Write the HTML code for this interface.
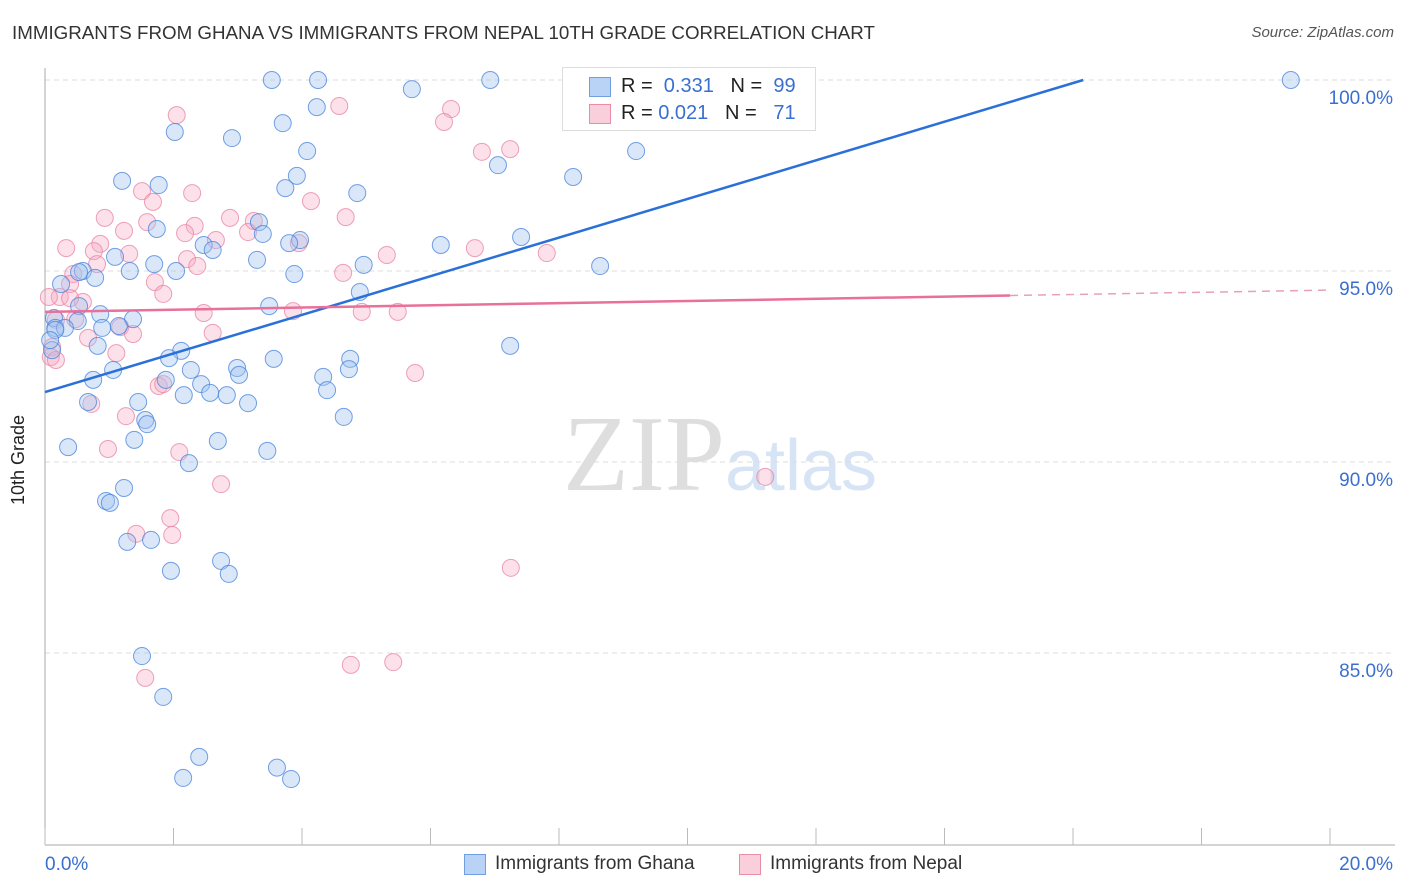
<!DOCTYPE html>
<html><head><meta charset="utf-8"><style>
body{margin:0;background:#fff;font-family:"Liberation Sans",sans-serif}
#wrap{position:relative;width:1406px;height:892px;overflow:hidden}
.t{position:absolute;white-space:nowrap}
</style></head><body>
<div id="wrap">
<div class="t" style="left:12px;top:22px;font-size:18.75px;color:#333">IMMIGRANTS FROM GHANA VS IMMIGRANTS FROM NEPAL 10TH GRADE CORRELATION CHART</div>
<div class="t" style="right:12px;top:24px;font-size:15px;color:#555;font-style:italic">Source: ZipAtlas.com</div>
<div class="t" style="left:8px;font-size:18px;color:#222;transform:rotate(-90deg);transform-origin:left top;top:505px">10th Grade</div>
<svg id="svg" width="1406" height="892" style="position:absolute;left:0;top:0">
<text x="720" y="490" text-anchor="middle" font-family="Liberation Serif,serif" font-size="108" fill="#e4e4e4"><tspan fill="#dedede">ZIP</tspan><tspan font-family="Liberation Sans,sans-serif" font-size="72" fill="#d6e4f5">atlas</tspan></text>
<g id="g"></g>
</svg>
<div class="t" style="left:562px;top:67px;width:252px;height:62px;border:1px solid #ddd;background:#fff">
 <div style="position:absolute;left:26px;top:9px;width:20px;height:18px;background:#b8d3f5;border:1px solid #6f9fe0"></div>
 <div class="t" style="left:58px;top:7px;font-size:20px;color:#222">R = <span style="color:#3a6fd0">&nbsp;0.331</span>&nbsp;&nbsp;&nbsp;N = <span style="color:#3a6fd0">&nbsp;99</span></div>
 <div style="position:absolute;left:26px;top:36px;width:20px;height:18px;background:#f9cfdc;border:1px solid #e88ca8"></div>
 <div class="t" style="left:58px;top:34px;font-size:20px;color:#222">R = <span style="color:#3a6fd0">0.021</span>&nbsp;&nbsp;&nbsp;N = <span style="color:#3a6fd0">&nbsp;&nbsp;71</span></div>
</div>
<div style="position:absolute;left:464px;top:854px;width:20px;height:19px;background:#b8d3f5;border:1px solid #6f9fe0"></div>
<div class="t" style="left:495px;top:853px;font-size:19px;color:#333">Immigrants from Ghana</div>
<div style="position:absolute;left:739px;top:854px;width:20px;height:19px;background:#f9cfdc;border:1px solid #e88ca8"></div>
<div class="t" style="left:770px;top:853px;font-size:19px;color:#333">Immigrants from Nepal</div>
</div>
<script>
const xTicks=[0,2,4,6,8,10,12,14,16,18,20];
const yTicks=[100,95,90,85];
const yTickLabels=["100.0%","95.0%","90.0%","85.0%"];
const xEndLabels=["0.0%","20.0%"];
const ghanaX=[3.53,4.25,6.93,19.39,5.71,4.23,3.70,2.02,2.91,4.08,9.20,7.05,1.20,1.77,8.22,3.92,3.74,4.86,1.74,3.33,3.39,7.41,6.16,3.97,2.47,2.61,3.80,3.30,1.09,1.70,2.04,1.32,4.96,8.64,0.59,0.53,0.78,3.88,0.25,4.90,3.49,0.53,0.86,0.14,0.51,1.37,0.16,0.31,0.89,1.15,7.24,0.82,2.12,4.75,3.56,1.93,1.06,2.27,2.99,4.73,0.75,1.88,4.33,3.02,2.43,2.16,2.57,2.83,4.39,3.16,1.45,0.67,4.65,1.56,1.59,0.36,1.39,2.69,3.46,2.24,1.23,0.95,1.01,1.28,1.65,2.74,1.96,2.86,1.51,1.84,2.40,2.15,3.61,3.83,0.11,0.16,0.08];
const ghanaY=[100,100,100,100,99.76,99.29,98.87,98.64,98.48,98.14,98.14,97.77,97.36,97.25,97.46,97.49,97.17,97.04,96.10,96.28,95.97,95.89,95.68,95.81,95.68,95.55,95.73,95.29,95.37,95.18,95.00,95.00,95.16,95.13,95.00,94.97,94.82,94.92,94.66,94.45,94.08,94.08,93.87,93.77,93.69,93.74,93.51,93.51,93.51,93.56,93.04,93.04,92.91,92.70,92.70,92.72,92.41,92.41,92.46,92.43,92.15,92.15,92.23,92.28,92.04,91.75,91.81,91.75,91.88,91.54,91.57,91.57,91.18,91.10,90.99,90.39,90.58,90.55,90.29,89.97,89.32,88.98,88.93,87.91,87.96,87.41,87.15,87.07,84.92,83.85,82.28,81.73,82.00,81.70,92.93,93.46,93.19];
const nepalX=[2.05,4.58,6.32,6.21,6.80,7.24,1.51,2.29,1.68,4.14,4.68,0.93,2.88,3.25,1.59,2.33,1.23,3.16,2.18,2.66,3.95,0.33,0.86,0.76,6.69,5.32,7.81,1.31,2.21,2.37,0.81,4.64,0.44,1.71,0.39,1.84,0.23,0.59,0.06,0.39,3.86,2.47,4.93,5.49,0.17,1.17,0.47,1.37,2.61,0.67,0.11,0.09,0.17,1.11,5.76,1.77,1.84,0.72,1.26,2.09,0.98,2.74,11.21,1.95,1.98,1.42,7.25,1.56,4.76,5.42];
const nepalY=[99.08,99.32,99.24,98.90,98.12,98.19,97.09,97.04,96.81,96.83,96.41,96.39,96.39,96.31,96.28,96.18,96.05,96.02,95.99,95.81,95.73,95.60,95.71,95.52,95.60,95.42,95.47,95.45,95.31,95.13,95.18,94.95,94.92,94.71,94.66,94.40,94.32,94.19,94.32,94.29,93.95,93.90,93.93,93.93,93.72,93.53,93.74,93.35,93.38,93.25,93.01,92.75,92.67,92.85,92.33,91.99,92.04,91.52,91.20,90.26,90.34,89.42,89.61,88.53,88.09,88.12,87.23,84.35,84.69,84.76];
const ghanaTrend=[91.83,0.5056];
const nepalTrend=[93.93,0.0285];
const nepalSolidEnd=15.02;

const X=v=>45+v*64.25, Y=v=>80+(100-v)*38.2;
const NS='http://www.w3.org/2000/svg', g=document.getElementById('g');
function mk(t,a){const e=document.createElementNS(NS,t);for(const k in a)e.setAttribute(k,a[k]);g.appendChild(e);return e;}
yTicks.forEach((v,i)=>{
 const l=mk('line',{x1:45,x2:1395,y1:Y(v),y2:Y(v),stroke:'#ddd','stroke-dasharray':'5,4'});
 
 
 const t=mk('text',{x:1393,y:Y(v)+24,'text-anchor':'end','font-size':19,fill:'#3a6fd0','font-family':'Liberation Sans,sans-serif'});
 t.textContent=yTickLabels[i];
 
 
});
const ax=mk('line',{x1:45,x2:45,y1:68,y2:845,stroke:'#aaa'});


const bx=mk('line',{x1:45,x2:1395,y1:845,y2:845,stroke:'#aaa'});


xTicks.forEach(v=>{
 const l=mk('line',{x1:X(v),x2:X(v),y1:828,y2:845,stroke:'#bbb'});
 
 
});
[[0,'start',xEndLabels[0]],[20,'end',xEndLabels[1]]].forEach(([v,a,s])=>{
 const t=mk('text',{x:a==='start'?X(v):X(v)+63,y:870,'text-anchor':a,'font-size':19,fill:'#3a6fd0','font-family':'Liberation Sans,sans-serif'});
 t.textContent=s;
 
 
});
nepalX.forEach((x,i)=>{
 const c=mk('circle',{cx:X(x),cy:Y(nepalY[i]),r:8.5,fill:'rgba(246,170,195,0.35)',stroke:'rgba(232,130,160,0.75)','stroke-width':1});
 
 
});
ghanaX.forEach((x,i)=>{
 const c=mk('circle',{cx:X(x),cy:Y(ghanaY[i]),r:8.5,fill:'rgba(160,196,240,0.4)',stroke:'rgba(70,130,220,0.75)','stroke-width':1});
 
 
});
const gEnd=(100-ghanaTrend[0])/ghanaTrend[1];
const bl=mk('line',{x1:X(0),y1:Y(ghanaTrend[0]),x2:X(gEnd),y2:Y(100),stroke:'#2a70d8','stroke-width':2.5});


const pl=mk('line',{x1:X(0),y1:Y(nepalTrend[0]),x2:X(nepalSolidEnd),y2:Y(nepalTrend[0]+nepalTrend[1]*nepalSolidEnd),stroke:'#e8709a','stroke-width':2.5});


const pd=mk('line',{x1:X(nepalSolidEnd),y1:Y(nepalTrend[0]+nepalTrend[1]*nepalSolidEnd),x2:X(20),y2:Y(nepalTrend[0]+nepalTrend[1]*20),stroke:'#e8a0b8','stroke-width':1.5,'stroke-dasharray':'8,6'});


</script>
</body></html>
